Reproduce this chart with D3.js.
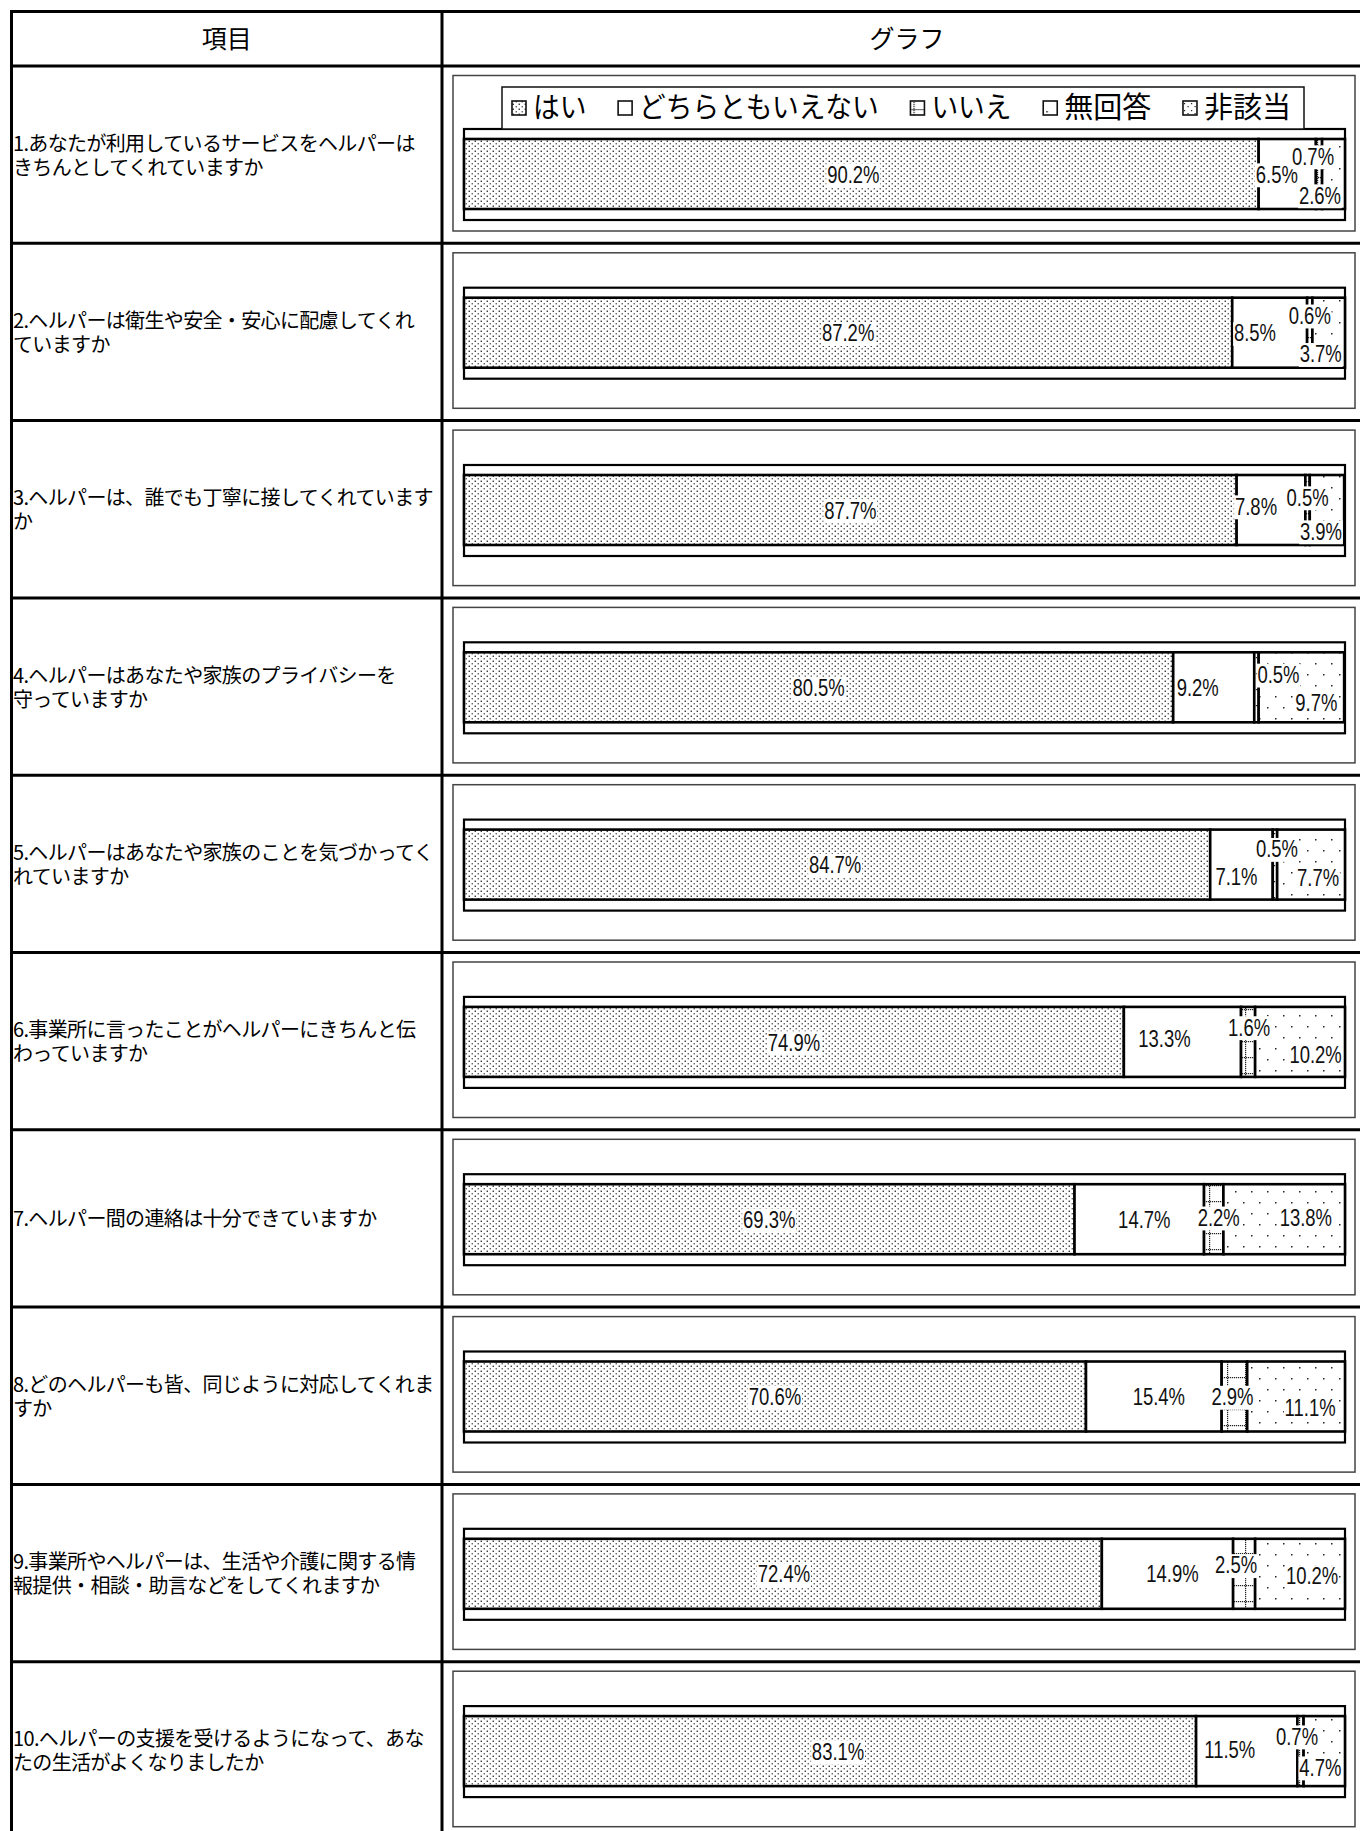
<!DOCTYPE html>
<html><head><meta charset="utf-8">
<script src="https://cdn.jsdelivr.net/npm/d3@7/dist/d3.min.js"></script>
<style>
body{margin:0;background:#fff}
#wrap{position:relative;width:1360px;height:1831px;overflow:hidden}
svg{display:block;position:absolute;left:0;top:0}
.q{position:absolute;left:13px;white-space:pre;font-family:'Noto Sans CJK JP','Noto Sans',sans-serif;font-size:20px;letter-spacing:-0.65px;line-height:24px;color:#000}
</style>
</head><body>
<div id="wrap"><svg id="c" width="1360" height="1831"></svg></div>
<script>
// ---------------- data ----------------
const categories = ["はい", "どちらともいえない", "いいえ", "無回答", "非該当"];
const questionLines = [
  ["1.あなたが利用しているサービスをヘルパーは", "きちんとしてくれていますか"],
  ["2.ヘルパーは衛生や安全・安心に配慮してくれ", "ていますか"],
  ["3.ヘルパーは、誰でも丁寧に接してくれています", "か"],
  ["4.ヘルパーはあなたや家族のプライバシーを", "守っていますか"],
  ["5.ヘルパーはあなたや家族のことを気づかってく", "れていますか"],
  ["6.事業所に言ったことがヘルパーにきちんと伝", "わっていますか"],
  ["7.ヘルパー間の連絡は十分できていますか"],
  ["8.どのヘルパーも皆、同じように対応してくれま", "すか"],
  ["9.事業所やヘルパーは、生活や介護に関する情", "報提供・相談・助言などをしてくれますか"],
  ["10.ヘルパーの支援を受けるようになって、あな", "たの生活がよくなりましたか"]
];
const yesValues      = [90.2, 87.2, 87.7, 80.5, 84.7, 74.9, 69.3, 70.6, 72.4, 83.1];
const neutralValues  = [6.5, 8.5, 7.8, 9.2, 7.1, 13.3, 14.7, 15.4, 14.9, 11.5];
const noValues       = [0.7, 0.6, 0.5, 0.5, 0.5, 1.6, 2.2, 2.9, 2.5, 0.7];
const noAnswerValues = [2.6, 3.7, 3.9, 9.7, 7.7, 10.2, 13.8, 11.1, 10.2, 4.7];
const notApplicableValues = [0, 0, 0, 0, 0, 0, 0, 0, 0, 0];
const headerTexts = ["項目", "グラフ"];

// ---------------- layout (label nudges in px, relative to segment centre) ----------------
const labelNudges = [
  [[-8,0],[-10.5,0],[-6,-18],[-13.6,21]],
  [[0,0],[-14.7,0],[0,-17.5],[-8,21]],
  [[0,0],[-15,-4],[0,-13],[-6,21]],
  [[0,0],[-16,0],[22,-13],[15,15]],
  [[-2,0],[-5,12],[2,-16],[7,13]],
  [[0,0],[-18,-4],[1,-15],[15.5,12.5]],
  [[0,0],[5,0],[5,-2],[21.6,-2]],
  [[0,0],[5,0],[-2,0],[14,11]],
  [[1,0],[5,0],[-8,-9],[12,2]],
  [[8,0],[-17,-2],[-3.5,-15],[-4,16]]
];

const W = 1360, H = 1831;
const svg = d3.select("#c");
const defs = svg.append("defs");

function pattern(id, w, h, draw) {
  const p = defs.append("pattern").attr("id", id)
    .attr("patternUnits", "userSpaceOnUse").attr("width", w).attr("height", h);
  p.append("rect").attr("width", w).attr("height", h).attr("fill", "#fff");
  draw(p);
}
pattern("p0", 6, 5, p => {
  p.append("rect").attr("x", 0.6).attr("y", 0.6).attr("width", 1.3).attr("height", 1.3).attr("fill", "#111");
  p.append("rect").attr("x", 3.6).attr("y", 3.1).attr("width", 1.3).attr("height", 1.3).attr("fill", "#444");
});
pattern("p1", 10, 10, p => {});
pattern("p2", 18, 16, p => {
  for (let y = 0; y < 16; y += 2) p.append("rect").attr("x", 3).attr("y", y).attr("width", 1.2).attr("height", 1.2).attr("fill", "#222");
  for (let x = 0; x < 18; x += 2) p.append("rect").attr("x", x).attr("y", 1).attr("width", 1.2).attr("height", 1.2).attr("fill", "#222");
});
pattern("p3", 16, 22, p => {
  p.append("rect").attr("x", 3).attr("y", 3).attr("width", 1.5).attr("height", 1.5).attr("fill", "#222");
  p.append("rect").attr("x", 11).attr("y", 14).attr("width", 1.5).attr("height", 1.5).attr("fill", "#222");
});
pattern("p4", 7, 7, p => {
  p.append("rect").attr("x", 1).attr("y", 2).attr("width", 1.2).attr("height", 1.2).attr("fill", "#222");
  p.append("rect").attr("x", 4.5).attr("y", 5).attr("width", 1.2).attr("height", 1.2).attr("fill", "#222");
});
const fills = categories.map((c, i) => `url(#p${i})`);

// build table for the stack
const seriesValues = [yesValues, neutralValues, noValues, noAnswerValues, notApplicableValues];
const table = questionLines.map((q, i) => {
  const r = { idx: i };
  categories.forEach((c, k) => r[c] = seriesValues[k][i]);
  return r;
});
const stacked = d3.stack().keys(categories)(table);

// scales
const tableTop = 11.5, tableLeft = 11.5, tableRight = 1372, headerBottom = 66, colDiv = 442;
const rowH = 177.3;
const yRow = d3.scaleBand().domain(d3.range(questionLines.length))
  .range([headerBottom, headerBottom + rowH * questionLines.length]).paddingInner(0).paddingOuter(0);
const x = d3.scaleLinear().domain([0, 100]).range([464, 1345]);
const barH = 70;
const barTop = i => yRow(i) + (i === 0 ? 73 : 54.4);

const jpFont = "'Noto Sans CJK JP', 'Noto Sans', sans-serif";

// ---------------- panels & plot frames ----------------
const rowsG = svg.append("g");
d3.range(questionLines.length).forEach(i => {
  const top = yRow(i);
  rowsG.append("rect").attr("x", 453).attr("y", top + 9.5).attr("width", 1355 - 453).attr("height", 155.5)
    .attr("fill", "#fff").attr("stroke", "#444").attr("stroke-width", 1.5);
  rowsG.append("rect").attr("x", x(0)).attr("y", barTop(i) - 10).attr("width", x(100) - x(0)).attr("height", barH + 21)
    .attr("fill", "#fff").attr("stroke", "#000").attr("stroke-width", 2.2);
});

// ---------------- bars ----------------
const barsG = svg.append("g");
stacked.forEach((s, k) => {
  barsG.append("g").selectAll("rect").data(s).join("rect")
    .attr("x", d => x(d[0]))
    .attr("width", d => x(d[1]) - x(d[0]))
    .attr("y", (d, i) => barTop(i))
    .attr("height", barH)
    .attr("fill", fills[k])
    .attr("stroke", "#000").attr("stroke-width", 2.6);
});

// ---------------- labels ----------------
const labG = svg.append("g");
stacked.forEach((s, k) => {
  s.forEach((d, i) => {
    const v = d[1] - d[0];
    if (v <= 0) return;
    const nd = labelNudges[i][k] || [0, 0];
    const cx = (x(d[0]) + x(d[1])) / 2 + nd[0];
    const cy = barTop(i) + barH / 2 + nd[1];
    const g = labG.append("g").attr("transform", `translate(${cx},${cy}) scale(0.77,1)`);
    const t = g.append("text").attr("text-anchor", "middle").attr("dy", "0.36em")
      .attr("font-family", "'Liberation Sans', Arial, sans-serif").attr("font-size", 24)
      .attr("fill", "#111").text(v.toFixed(1) + "%");
    const bb = t.node().getBBox();
    g.insert("rect", "text").attr("x", bb.x - 1).attr("y", bb.y + 2).attr("width", bb.width + 2).attr("height", bb.height - 3)
      .attr("fill", "#fff");
  });
});

// ---------------- legend ----------------
const legG = svg.append("g");
const legBox = { x0: 502, x1: 1304, y0: 87, y1: 129 };
legG.append("rect").attr("x", legBox.x0).attr("y", legBox.y0).attr("width", legBox.x1 - legBox.x0).attr("height", legBox.y1 - legBox.y0)
  .attr("fill", "#fff").attr("stroke", "#111").attr("stroke-width", 1.5);
const legCy = 108;
const items = categories.map((c, k) => {
  const g = legG.append("g");
  g.append("rect").attr("x", 0).attr("y", -7).attr("width", 14).attr("height", 14)
    .attr("fill", fills[k]).attr("stroke", "#111").attr("stroke-width", 1.6);
  const t = g.append("text").attr("x", 21).attr("dy", "0.36em").attr("font-family", jpFont).attr("font-size", 29)
    .attr("fill", "#000").text(c);
  let tw = t.node().getComputedTextLength();
  if (/^[\u3040-\u309f]+$/.test(c)) {           // kana-only strings are set narrower in the reference font
    tw = tw * 0.92;
    t.attr("textLength", tw).attr("lengthAdjust", "spacingAndGlyphs");
  }
  return { g, w: 21 + tw };
});
const startX = 512, endX = 1291;
const totalW = d3.sum(items, d => d.w);
const gap = (endX - startX - totalW) / (items.length - 1);
let cur = startX;
items.forEach(it => { it.g.attr("transform", `translate(${cur},${legCy})`); cur += it.w + gap; });

// ---------------- header text ----------------
const txtG = svg.append("g");
txtG.append("text").attr("x", (tableLeft + colDiv) / 2).attr("y", (tableTop + headerBottom) / 2).attr("dy", "0.36em")
  .attr("text-anchor", "middle").attr("font-family", jpFont).attr("font-size", 25).attr("fill", "#000").text(headerTexts[0]);
txtG.append("text").attr("x", (colDiv + tableRight) / 2).attr("y", (tableTop + headerBottom) / 2).attr("dy", "0.36em")
  .attr("text-anchor", "middle").attr("font-family", jpFont).attr("font-size", 25).attr("fill", "#000").text(headerTexts[1]);

// ---------------- table grid ----------------
const gridG = svg.append("g").attr("stroke", "#000").attr("stroke-width", 3).attr("fill", "none");
gridG.append("rect").attr("x", tableLeft).attr("y", tableTop).attr("width", tableRight - tableLeft).attr("height", H + 20 - tableTop);
gridG.append("line").attr("x1", tableLeft).attr("x2", tableRight).attr("y1", headerBottom).attr("y2", headerBottom);
gridG.append("line").attr("x1", colDiv).attr("x2", colDiv).attr("y1", tableTop).attr("y2", H + 20);
d3.range(1, questionLines.length).forEach(i => {
  gridG.append("line").attr("x1", tableLeft).attr("x2", tableRight).attr("y1", yRow(i)).attr("y2", yRow(i));
});

// ---------------- question text (one block per cell) ----------------
const lineH = 24;
d3.select("#wrap").selectAll("div.q").data(questionLines).join("div")
  .attr("class", "q")
  .style("top", (lines, i) => (yRow(i) + rowH / 2 - lines.length * lineH / 2) + "px")
  .text(lines => lines.join("\n"));
</script>
</body></html>
